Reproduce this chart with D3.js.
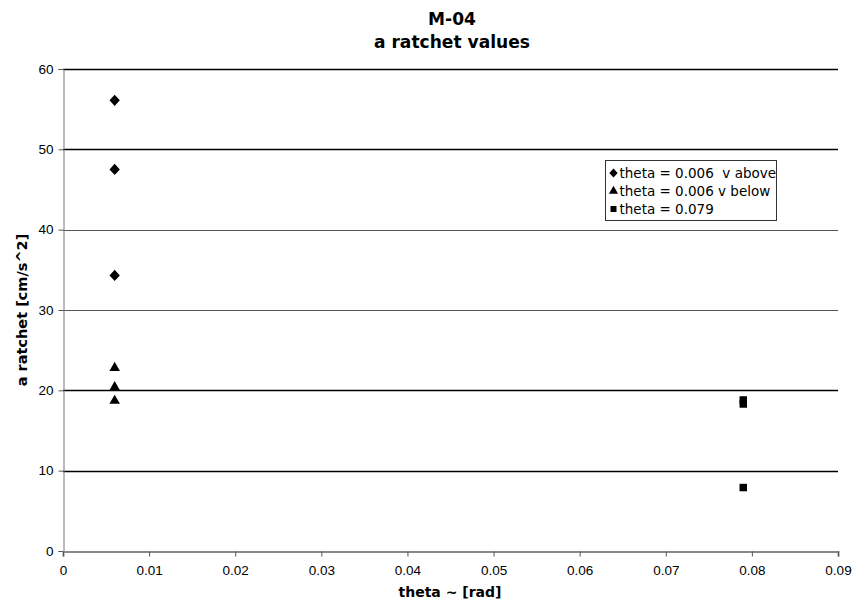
<!DOCTYPE html>
<html>
<head>
<meta charset="utf-8">
<script src="https://cdn.jsdelivr.net/npm/d3@7"></script>
<style>
  body { margin: 0; background: #fff; }
  svg { font-family: "DejaVu Sans", Verdana, sans-serif; }
</style>
</head>
<body>
<svg id="chart" width="856" height="604"></svg>
<script>
// values
var aboveTheta = [0.006, 0.006, 0.006]
var aboveA = [56.1, 47.5, 34.3]
var belowTheta = [0.006, 0.006, 0.006]
var belowA = [22.8, 20.4, 18.7]
var bigTheta = [0.079, 0.079, 0.079]
var bigA = [18.8, 18.3, 7.9]
var xTicks = [0, 0.01, 0.02, 0.03, 0.04, 0.05, 0.06, 0.07, 0.08, 0.09]
var yTicks = [0, 10, 20, 30, 40, 50, 60]
var legendLabels = ['theta = 0.006  v above', 'theta = 0.006 v below', 'theta = 0.079']

var margin = {left: 63, right: 18, top: 69, bottom: 53}
var width = 856, height = 604

var x = d3.scaleLinear().domain([0, 0.09]).range([margin.left, width - margin.right])
var y = d3.scaleLinear().domain([0, 60]).range([height - margin.bottom, margin.top])

var svg = d3.select('#chart')

// title, slightly narrowed like the original
var titleFont = 'bold 18px "DejaVu Sans", Verdana, sans-serif'
svg.append('text')
    .attr('transform', 'translate(452,25) scale(0.95,1)')
    .attr('text-anchor', 'middle')
    .style('font', titleFont)
    .text('M-04')
svg.append('text')
    .attr('transform', 'translate(452,48) scale(0.95,1)')
    .attr('text-anchor', 'middle')
    .style('font', titleFont)
    .text('a ratchet values')

// gridlines
svg.append('g')
  .selectAll('line')
  .data(yTicks.filter(d => d > 0))
  .join('line')
    .attr('x1', x(0)).attr('x2', x(0.09))
    .attr('y1', d => Math.round(y(d)) + 0.5)
    .attr('y2', d => Math.round(y(d)) + 0.5)
    .attr('stroke', d => (d == 30 || d == 40) ? '#555' : '#000')
    .attr('stroke-width', d => (d == 30 || d == 40) ? 1 : 1.3)

// axes
var yAxis = svg.append('g')
    .attr('transform', `translate(${x(0) + 0.5},0)`)
    .call(d3.axisLeft(y).tickValues(yTicks).tickSize(5).tickPadding(5).tickFormat(d3.format('d')))
yAxis.select('.domain').attr('stroke', '#777')
yAxis.selectAll('.tick line').attr('stroke', '#555')
yAxis.selectAll('text').style('font-size', '13.5px').attr('fill', '#000')

var xAxis = svg.append('g')
    .attr('transform', `translate(0,${Math.round(y(0)) + 0.5})`)
    .call(d3.axisBottom(x).tickValues(xTicks).tickSize(5).tickPadding(9).tickFormat(d => d === 0 ? '0' : d3.format('.2f')(d)))
xAxis.select('.domain').attr('stroke', '#888').attr('stroke-width', 2)
xAxis.selectAll('.tick line').attr('stroke', '#555')
xAxis.selectAll('text').style('font-size', '13.5px').attr('fill', '#000')

// axis titles
svg.append('text')
    .attr('x', 450).attr('y', 597)
    .attr('text-anchor', 'middle')
    .style('font', 'bold 14px "DejaVu Sans", Verdana, sans-serif')
    .text('theta ~ [rad]')
svg.append('text')
    .attr('transform', `translate(27,${(y(0) + y(60)) / 2}) rotate(-90)`)
    .attr('text-anchor', 'middle')
    .style('font', 'bold 14.5px "DejaVu Sans", Verdana, sans-serif')
    .text('a ratchet [cm/s^2]')

// points
var series = [
  {xs: aboveTheta, ys: aboveA, sym: d3.symbolDiamond, size: 36, sx: 1.6},
  {xs: belowTheta, ys: belowA, sym: d3.symbolTriangle, size: 48, sx: 1},
  {xs: bigTheta, ys: bigA, sym: d3.symbolSquare, size: 56, sx: 1}
]
series.forEach(function(s) {
  svg.append('g')
    .selectAll('path')
    .data(d3.range(s.xs.length))
    .join('path')
      .attr('transform', i => `translate(${x(s.xs[i])},${y(s.ys[i])}) scale(${s.sx},1)`)
      .attr('d', d3.symbol().type(s.sym).size(s.size))
      .attr('fill', '#000')
})

// legend
var lg = svg.append('g').attr('transform', 'translate(605.5,160.5)')
lg.append('rect')
    .attr('width', 171).attr('height', 60)
    .attr('fill', '#fff').attr('stroke', '#333')
var legendSyms = [d3.symbolDiamond, d3.symbolTriangle, d3.symbolSquare]
var item = lg.selectAll('g.item')
  .data(legendLabels)
  .join('g')
    .attr('class', 'item')
    .attr('transform', (d, i) => `translate(0,${12 + i * 18})`)
item.append('path')
    .attr('transform', (d, i) => `translate(8,0.5) scale(${i == 0 ? 1.6 : 1},1)`)
    .attr('d', (d, i) => d3.symbol().type(legendSyms[i]).size(i == 0 ? 24 : 36)())
    .attr('fill', '#000')
item.append('text')
    .attr('x', 14).attr('y', 5)
    .style('font-size', '13.5px')
    .style('white-space', 'pre')
    .text(d => d)
</script>
</body>
</html>
